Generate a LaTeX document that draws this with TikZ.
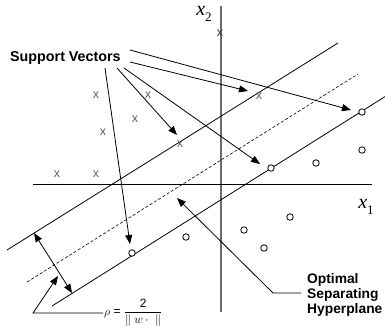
\documentclass[tikz,border=0pt]{standalone}
\usepackage{amsmath}
\usepackage{fontspec}
\setmainfont{Liberation Sans}
\newfontfamily\serifit{Liberation Serif}
\usetikzlibrary{arrows.meta}
\tikzset{
  line/.style={line width=0.8pt, black},
  axis/.style={line width=1.3pt, gray!85!black},
  tipped/.style={line, -{Triangle[length=9pt,width=7pt]}},
  dtipped/.style={line, {Triangle[length=9pt,width=7pt]}-{Triangle[length=9pt,width=7pt]}},
  crossmk/.style={inner sep=0pt, text=gray!75!black, font=\fontsize{12.5}{12.5}\selectfont},
  dotmk/.style={circle, draw=black, line width=0.8pt, fill=white, minimum size=6.5pt, inner sep=0pt},
  lab/.style={inner sep=0pt, font=\bfseries\fontsize{13.8}{15}\selectfont, align=left},
  axlab/.style={inner sep=0pt, font=\serifit\itshape\fontsize{20}{20}\selectfont},
}
\begin{document}
\begin{tikzpicture}[x=1pt,y=-1pt]
\useasboundingbox (0,0) rectangle (385,325);
% axes
\coordinate (vt) at (221,6);
\coordinate (vb) at (221,312);
\coordinate (hl) at (33,184);
\coordinate (hr) at (372,184);
\draw[axis] (vt) -- (vb);
\draw[line, line width=1pt] (hl) -- (hr);
\node[axlab] (x2) at (204,14) {x\raisebox{-0.3em}{\fontsize{13}{13}\selectfont\upshape 2}};
\node[axlab] (x1) at (366,207) {x\raisebox{-0.3em}{\fontsize{13}{13}\selectfont\upshape 1}};
% margin lines
\coordinate (ua) at (7,250);
\coordinate (ub) at (338,43);
\coordinate (ma) at (27,282);
\coordinate (mb) at (358,74);
\coordinate (la) at (52,306);
\coordinate (lb) at (386,96);
\draw[line] (ua) -- (ub);
\draw[line, line width=0.6pt, dashed, dash pattern=on 3pt off 2pt] (ma) -- (mb);
\draw[line] (la) -- (lb);
% crosses
\node[crossmk] (c1) at (96,95) {x};
\node[crossmk] (c2) at (148,95) {x};
\node[crossmk] (c3) at (135,119) {x};
\node[crossmk] (c4) at (103,132) {x};
\node[crossmk] (c5) at (180,144) {x};
\node[crossmk] (c6) at (57,174) {x};
\node[crossmk] (c7) at (96,174) {x};
\node[crossmk, text=black!80] (c8) at (220,33) {x};
\node[crossmk] (c9) at (259,96) {x};
% circles
\node[dotmk] (o1) at (132,253) {};
\node[dotmk] (o2) at (271,168) {};
\node[dotmk] (o3) at (362,112) {};
\node[dotmk] (o4) at (316,163) {};
\node[dotmk] (o5) at (362,150) {};
\node[dotmk] (o6) at (186,237) {};
\node[dotmk] (o7) at (290,217) {};
\node[dotmk] (o8) at (244,230) {};
\node[dotmk] (o9) at (264,248) {};
% support vectors label and arrows
\node[lab, font=\bfseries\fontsize{14.3}{15}\selectfont, anchor=west] (sv) at (10,58) {Support Vectors};
\coordinate (s1) at (130,50);
\coordinate (s2) at (130,62);
\coordinate (s3) at (124,68);
\coordinate (s4) at (117,68);
\coordinate (s5) at (105,68);
\coordinate (t1) at (351,110);
\coordinate (t2) at (248,91);
\coordinate (t3) at (260,164);
\coordinate (t4) at (177,135);
\coordinate (t5) at (130,244);
\draw[tipped] (s1) -- (t1);
\draw[tipped] (s2) -- (t2);
\draw[tipped] (s3) -- (t3);
\draw[tipped] (s4) -- (t4);
\draw[tipped] (s5) -- (t5);
% optimal separating hyperplane
\node[lab, anchor=west] (osh) at (307,295) {Optimal\\Separating\\Hyperplane};
\coordinate (h0) at (301,293);
\coordinate (h1) at (273,293);
\coordinate (h2) at (177,198);
\draw[tipped] (h0) -- (h1) -- (h2);
% margin double arrow
\coordinate (m1) at (34,233);
\coordinate (m2) at (72,293);
\draw[dtipped] (m1) -- (m2);
% rho label
\coordinate (r0) at (103,313);
\coordinate (r1) at (33,313);
\coordinate (r2) at (58,276);
\draw[tipped] (r0) -- (r1) -- (r2);
\node[inner sep=0pt, anchor=west, font=\fontsize{12}{12}\selectfont] (rho) at (104,313)
  {$\rho$ = $\dfrac{\text{2}}{\|\;w\,{\cdot}\;\;\|}$};
\end{tikzpicture}
\end{document}
